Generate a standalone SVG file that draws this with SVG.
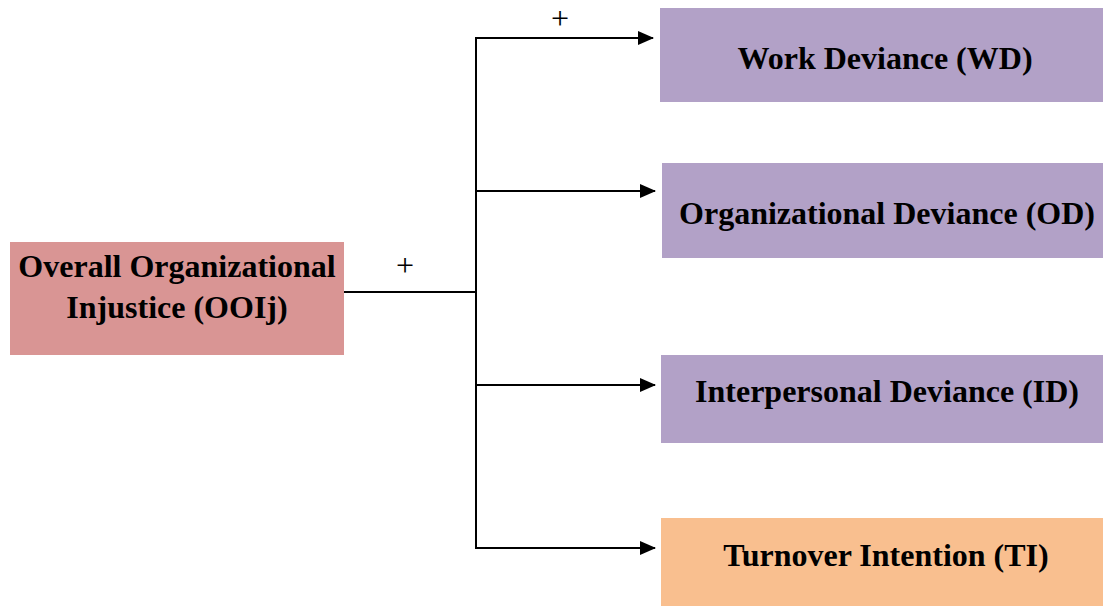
<svg xmlns="http://www.w3.org/2000/svg" width="1103" height="606" viewBox="0 0 1103 606">
<style>
.t{font-family:"Liberation Serif","Times New Roman",serif;font-weight:bold;font-size:32px;text-anchor:middle;fill:#000}
.p{font-family:"Liberation Serif","Times New Roman",serif;font-size:32px;text-anchor:middle;fill:#000}
.c{fill:none;stroke:#000;stroke-width:2}
.dev{fill:#B2A1C7}
</style>
<defs>
<marker id="ah" markerWidth="16" markerHeight="14" refX="15" refY="7" orient="auto" markerUnits="userSpaceOnUse">
<path d="M0,0 L16,7 L0,14 Z" fill="#000"/>
</marker>
</defs>
<rect width="1103" height="606" fill="#fff"/>
<g id="ooij">
<rect x="10" y="242" width="334" height="113" fill="#D99594"/>
<text class="t" x="177" y="277">Overall Organizational</text>
<text class="t" x="177" y="318">Injustice (OOIj)</text>
</g>
<g id="wd">
<rect class="dev" x="660" y="8" width="443" height="94"/>
<text class="t" x="885" y="69">Work Deviance (WD)</text>
</g>
<g id="od">
<rect class="dev" x="662" y="163" width="441" height="95"/>
<text class="t" x="887" y="224">Organizational Deviance (OD)</text>
</g>
<g id="id">
<rect class="dev" x="661" y="355" width="442" height="88"/>
<text class="t" x="887" y="402">Interpersonal Deviance (ID)</text>
</g>
<g id="ti">
<rect x="661" y="518" width="442" height="88" fill="#F9BF8F"/>
<text class="t" x="886" y="566">Turnover Intention (TI)</text>
</g>
<g id="connectors">
<path class="c" d="M344,292 H476"/>
<path class="c" d="M476,37 V549"/>
<path class="c" d="M475,38 H653" marker-end="url(#ah)"/>
<path class="c" d="M476,191 H655" marker-end="url(#ah)"/>
<path class="c" d="M476,385 H655" marker-end="url(#ah)"/>
<path class="c" d="M475,548 H655" marker-end="url(#ah)"/>
<text class="p" x="560" y="29">+</text>
<text class="p" x="405" y="276">+</text>
</g>
</svg>
